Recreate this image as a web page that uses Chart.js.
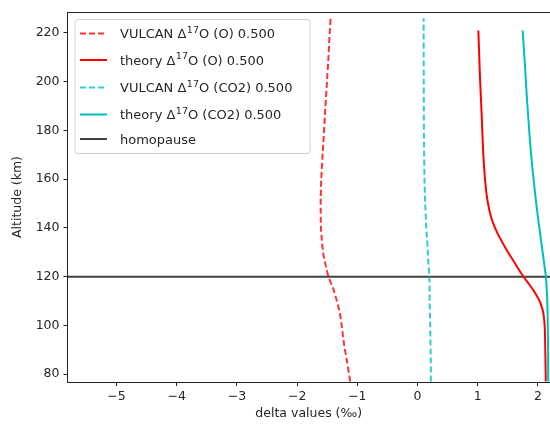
<!DOCTYPE html>
<html>
<head>
<meta charset="utf-8">
<script src="https://cdn.jsdelivr.net/npm/chart.js@4"></script>
<style>
  body { margin: 0; background: #fff; }
  #wrap { width: 550px; height: 425px; }
</style>
</head>
<body>
<div id="wrap"><canvas id="deltaChart" width="550" height="425"></canvas></div>
<script>
// VULCAN profiles (altitude in km, delta in permil)
const altVulcan = [77, 85, 92, 100, 105, 110, 115, 120, 125, 130, 135, 140, 150, 160, 175, 190, 200, 210, 220, 226];
const vulcanO = [-1.12, -1.17, -1.22, -1.26, -1.29, -1.34, -1.40, -1.48, -1.53, -1.57, -1.59, -1.605, -1.61, -1.60, -1.565, -1.53, -1.505, -1.48, -1.46, -1.445];
const vulcanCO2 = [0.22, 0.22, 0.215, 0.21, 0.205, 0.20, 0.20, 0.195, 0.182, 0.17, 0.158, 0.145, 0.127, 0.115, 0.107, 0.104, 0.103, 0.102, 0.101, 0.10];

// theory profiles
const altTheoryO = [77, 85, 92, 98, 102, 105, 107, 109, 112, 114.4, 117, 120, 124, 128, 131, 134.7, 138, 142, 145, 148.8, 155, 165, 175, 186.5, 200, 210, 221];
const theoryO = [2.13, 2.125, 2.12, 2.115, 2.105, 2.09, 2.07, 2.045, 1.985, 1.925, 1.85, 1.76, 1.655, 1.555, 1.48, 1.395, 1.325, 1.255, 1.215, 1.18, 1.14, 1.105, 1.083, 1.065, 1.04, 1.025, 1.01];

const altTheoryCO2 = [77, 90, 101, 110, 115, 120, 125, 130, 136, 143, 150, 157, 164, 171, 178, 185, 195, 205, 213, 221];
const theoryCO2 = [2.17, 2.168, 2.162, 2.155, 2.145, 2.132, 2.105, 2.078, 2.045, 2.007, 1.972, 1.94, 1.91, 1.883, 1.86, 1.84, 1.812, 1.788, 1.767, 1.746];

const homopauseAlt = 120;

const xMin = -5.815;
const xMax = 2.2;
const yMin = 76.8;
const yMax = 228.6;

const labels = [
  "VULCAN \u0394\u00b9\u2077O (O) 0.500",
  "theory \u0394\u00b9\u2077O (O) 0.500",
  "VULCAN \u0394\u00b9\u2077O (CO2) 0.500",
  "theory \u0394\u00b9\u2077O (CO2) 0.500",
  "homopause"
];

const fontFamily = "'DejaVu Sans', sans-serif";
const textColor = "#262626";

function toPoints(xs, ys) {
  return xs.map((x, i) => ({ x: x, y: ys[i] }));
}

// draws "17" as a raised smaller text, the rest at normal size
function drawLabel(ctx, text, x, y) {
  const sup = "\u00b9\u2077";
  const parts = text.split(sup);
  ctx.font = "13px " + fontFamily;
  ctx.fillText(parts[0], x, y);
  if (parts.length < 2) return;
  x += ctx.measureText(parts[0]).width;
  ctx.font = "9.5px " + fontFamily;
  ctx.fillText("17", x + 0.5, y - 5.5);
  x += ctx.measureText("17").width + 0.5;
  ctx.font = "13px " + fontFamily;
  ctx.fillText(parts[1], x, y);
}

// legend inside the plot area, like matplotlib's "upper left"
const innerLegend = {
  id: "innerLegend",
  afterDatasetsDraw(chart) {
    const ctx = chart.ctx;
    const area = chart.chartArea;
    ctx.save();
    // top spine
    ctx.strokeStyle = "#222";
    ctx.lineWidth = 1;
    ctx.beginPath();
    ctx.moveTo(area.left, area.top + 0.5);
    ctx.lineTo(area.right, area.top + 0.5);
    ctx.stroke();

    const bx = area.left + 7.5, by = area.top + 7.5, bw = 235, bh = 134;
    ctx.fillStyle = "rgba(255,255,255,0.8)";
    ctx.strokeStyle = "#d0d0d0";
    ctx.beginPath();
    ctx.roundRect(bx, by, bw, bh, 3);
    ctx.fill();
    ctx.stroke();

    const rows = [14, 40.5, 68, 95, 119.5];
    ctx.textBaseline = "alphabetic";
    chart.data.datasets.forEach((ds, i) => {
      const yy = by + rows[i];
      ctx.strokeStyle = ds.borderColor;
      ctx.lineWidth = ds.borderWidth;
      ctx.setLineDash(ds.borderDash || []);
      ctx.beginPath();
      ctx.moveTo(bx + 5, yy);
      ctx.lineTo(bx + 32, yy);
      ctx.stroke();
      ctx.setLineDash([]);
      ctx.fillStyle = textColor;
      drawLabel(ctx, ds.label, bx + 45, yy + 4.5);
    });
    ctx.restore();
  }
};

const ctx = document.getElementById("deltaChart").getContext("2d");

new Chart(ctx, {
  type: "scatter",
  data: {
    datasets: [
      {
        label: labels[0],
        data: toPoints(vulcanO, altVulcan),
        borderColor: "rgba(255,0,0,0.8)",
        borderDash: [6, 3],
        borderWidth: 2,
        showLine: true,
        pointRadius: 0,
        tension: 0.2
      },
      {
        label: labels[1],
        data: toPoints(theoryO, altTheoryO),
        borderColor: "#ff0000",
        borderWidth: 2,
        showLine: true,
        pointRadius: 0,
        tension: 0.2
      },
      {
        label: labels[2],
        data: toPoints(vulcanCO2, altVulcan),
        borderColor: "rgba(0,191,191,0.8)",
        borderDash: [6, 3],
        borderWidth: 2,
        showLine: true,
        pointRadius: 0,
        tension: 0.2
      },
      {
        label: labels[3],
        data: toPoints(theoryCO2, altTheoryCO2),
        borderColor: "#00bfbf",
        borderWidth: 2,
        showLine: true,
        pointRadius: 0,
        tension: 0.2
      },
      {
        label: labels[4],
        data: [{ x: xMin, y: homopauseAlt }, { x: xMax, y: homopauseAlt }],
        borderColor: "rgba(0,0,0,0.75)",
        borderWidth: 2,
        showLine: true,
        pointRadius: 0
      }
    ]
  },
  options: {
    responsive: false,
    animation: false,
    devicePixelRatio: 1,
    layout: { padding: { top: 12, right: 0, left: 0, bottom: 0 } },
    plugins: {
      legend: { display: false },
      tooltip: { enabled: false }
    },
    scales: {
      x: {
        type: "linear",
        min: xMin,
        max: xMax,
        afterFit: (scale) => { scale.height = 43; },
        border: { display: true, color: "#222", width: 1 },
        grid: { drawOnChartArea: false, drawTicks: true, tickLength: 4, color: "#222" },
        ticks: {
          stepSize: 1,
          includeBounds: false,
          color: textColor,
          padding: 3,
          maxRotation: 0,
          font: { family: fontFamily, size: 12.5 },
          callback: (v) => (v < 0 ? "\u2212" + Math.abs(v) : "" + v)
        },
        title: {
          display: true,
          text: "delta values (\u2030)",
          color: textColor,
          font: { family: fontFamily, size: 12.5 },
          padding: { top: 0, bottom: 4 }
        }
      },
      y: {
        type: "linear",
        min: yMin,
        max: yMax,
        afterFit: (scale) => { scale.width = 67.5; },
        border: { display: true, color: "#222", width: 1 },
        grid: { drawOnChartArea: false, drawTicks: true, tickLength: 4, color: "#222" },
        ticks: {
          stepSize: 20,
          includeBounds: false,
          color: textColor,
          padding: 4,
          font: { family: fontFamily, size: 12.5 }
        },
        title: {
          display: true,
          text: "Altitude (km)",
          color: textColor,
          font: { family: fontFamily, size: 12.5 },
          padding: { top: 10, bottom: 0 }
        }
      }
    }
  },
  plugins: [innerLegend]
});
</script>
</body>
</html>
